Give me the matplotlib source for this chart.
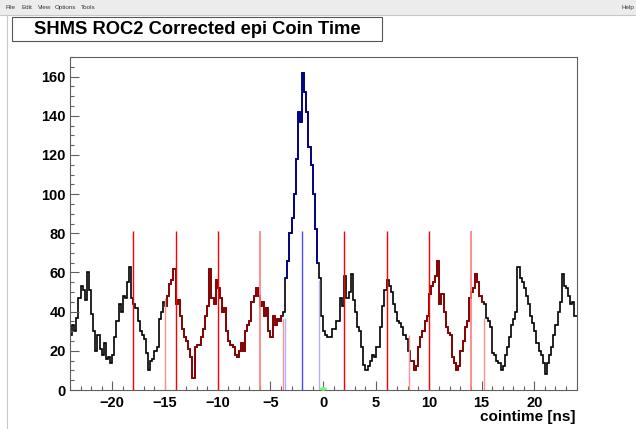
import numpy as np
import matplotlib.pyplot as plt
from matplotlib.patches import Rectangle

# coin time histogram, 0.2 ns bins from -24 to 24 ns
edges = np.round(np.arange(-24, 24.001, 0.2), 2)
counts = [
    28, 33, 30, 37, 47, 53, 51, 46, 60, 51, 39, 30, 20, 28, 21, 18, 24, 16, 17, 14,   # -24..-20
    18, 27, 35, 44, 40, 48, 47, 55, 63, 47, 44, 42, 35, 30, 28, 26, 19, 10, 15, 16,   # -20..-16
    20, 22, 36, 40, 45, 43, 48, 54, 56, 62, 44, 46, 38, 31, 27, 25, 21, 17, 6, 22,    # -16..-12
    23, 23, 27, 31, 38, 43, 62, 47, 44, 56, 52, 47, 40, 42, 30, 25, 23, 22, 18, 17,   # -12..-8
    20, 24, 20, 30, 33, 35, 45, 48, 52, 48, 43, 45, 38, 42, 30, 27, 38, 33, 36, 35,   # -8..-4
    38, 40, 57, 66, 80, 88, 100, 118, 142, 137, 162, 152, 142, 124, 115, 100, 82, 65, 57, 38,  # -4..0
    30, 28, 27, 27, 31, 31, 35, 35, 47, 43, 58, 47, 50, 59, 46, 40, 32, 30, 22, 13,   # 0..4
    10, 12, 15, 18, 17, 22, 22, 32, 43, 51, 56, 53, 50, 44, 40, 35, 34, 32, 28, 26,   # 4..8
    20, 15, 15, 10, 12, 22, 27, 30, 35, 38, 49, 53, 55, 58, 66, 44, 49, 40, 32, 29,   # 8..12
    28, 17, 14, 10, 12, 20, 25, 32, 35, 47, 50, 52, 59, 55, 48, 45, 44, 37, 35, 32,   # 12..16
    19, 18, 15, 14, 10, 12, 18, 22, 27, 33, 36, 40, 63, 57, 55, 52, 48, 44, 38, 34,   # 16..20
    30, 24, 20, 18, 14, 8, 14, 18, 22, 28, 33, 40, 45, 59, 53, 52, 48, 44, 45, 38,    # 20..24
]
counts = np.array(counts, dtype=float)

# selection windows (ns)
random_windows = [(-15.0, -3.8), (8.2, 15.2)]
prompt_window = (-3.6, -0.4)

# marker lines
red_lines = [-18, -14, -10, 2, 6, 10]
pale_lines = [-6, 14]
blue_lines = [-2]
line_height = 81
short_red_x = [-15.0, -3.8, 8.1, 15.2]
short_red_h = [47, 36, 28, 37]
short_blue_x = [-3.6, -0.45]
short_blue_h = [37, 56]

title = "SHMS ROC2 Corrected epi Coin Time"
xlabel = "cointime [ns]"
W, H = 636, 429

plt.rcParams['font.family'] = ['Liberation Sans', 'DejaVu Sans']
fig = plt.figure(figsize=(W / 100, H / 100), dpi=100)

# ROOT canvas menu bar
fig.patches.append(Rectangle((0, 1 - 15 / H), 1, 15 / H, transform=fig.transFigure,
                             facecolor='#ececec', edgecolor='none'))
fig.add_artist(plt.Line2D([0, 1], [1 - 15 / H, 1 - 15 / H], transform=fig.transFigure,
                          color='#c8c8c8', lw=0.8))
for x0, word in [(5, "File"), (22, "Edit"), (38, "View"), (55, "Options"), (81, "Tools")]:
    fig.text(x0 / W, 1 - 7.5 / H, word, fontsize=4.5, va='center', ha='left', color='#333333')
fig.text(634 / W, 1 - 7.5 / H, "Help", fontsize=4.5, va='center', ha='right', color='#333333')
fig.add_artist(plt.Line2D([7 / W, 7 / W], [0, 1 - 15 / H], transform=fig.transFigure,
                          color='#c8c8c8', lw=0.8))

# title box
fig.patches.append(Rectangle((13 / W, 1 - 42 / H), 370 / W, 24 / H, transform=fig.transFigure,
                             facecolor='#9a9a9a', edgecolor='none'))
fig.patches.append(Rectangle((12 / W, 1 - 41 / H), 370 / W, 24 / H, transform=fig.transFigure,
                             facecolor='white', edgecolor='#555555', lw=0.8))
fig.text(197 / W, 1 - 29.5 / H, title, fontsize=13.2, fontweight='bold', ha='center', va='center')

ax = fig.add_axes([70 / W, 1 - 390 / H, 506.5 / W, 333 / H])

ax.stairs(counts, edges, color='black', lw=1.2, baseline=None)


def window(lo, hi):
    i0 = int(np.searchsorted(edges, lo - 1e-6))
    i1 = int(np.searchsorted(edges, hi - 1e-6))
    return counts[i0:i1], edges[i0:i1 + 1]


for lo, hi in random_windows:
    v, e = window(lo, hi)
    ax.stairs(v, e, color='#990000', lw=1.2, baseline=None)
v, e = window(*prompt_window)
ax.stairs(v, e, color='#000099', lw=1.2, baseline=None)

ax.vlines(red_lines, 0, line_height, color='#ff0000', lw=1.0)
ax.vlines(pale_lines, 0, line_height, color='#ff7a7a', lw=1.2)
ax.vlines(blue_lines, 0, line_height, color='#4a4aff', lw=1.0)
ax.vlines(short_red_x, 0, short_red_h, color='#ff9090', lw=1.0)
ax.vlines(short_blue_x, 0, short_blue_h, color='#b0b0ff', lw=1.0)
ax.annotate('', xy=(-0.7, 0.6), xytext=(0.7, 0.6),
            arrowprops=dict(arrowstyle='<->', color='#70ff70', lw=1.0, mutation_scale=5))

ax.set_xlim(-24, 24)
ax.set_ylim(0, 170)
ax.set_xticks(np.arange(-20, 21, 5))
ax.set_xticks(np.arange(-24, 25, 1), minor=True)
ax.set_yticks(np.arange(0, 161, 20))
ax.set_yticks(np.arange(0, 171, 5), minor=True)
ax.tick_params(which='both', direction='in', top=False, right=False, color='#606060', width=0.8)
ax.tick_params(which='major', length=6.5)
ax.tick_params(which='minor', length=3.2)
ax.tick_params(axis='y', pad=3)
ax.tick_params(axis='x', pad=4)
for lab in ax.get_xticklabels() + ax.get_yticklabels():
    lab.set_fontweight('bold')
    lab.set_fontsize(10.5)
for s in ax.spines.values():
    s.set_color('#606060')
    s.set_linewidth(0.8)

fig.text(576 / W, 1 - 417.5 / H, xlabel, fontsize=11, fontweight='bold', ha='right', va='center')

fig.savefig('out.png', dpi=100)
